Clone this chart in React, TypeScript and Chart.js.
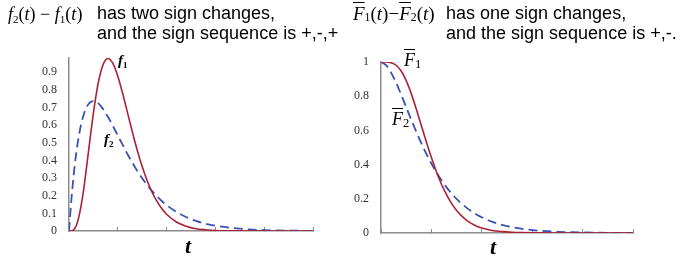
import React, { useEffect, useRef } from 'react';
import { Chart, registerables } from 'chart.js';
Chart.register(...registerables);

// ---- data ----
const tLeft = [0, 0.05, 0.1, 0.15, 0.2, 0.25, 0.3, 0.35, 0.4, 0.45, 0.5, 0.55, 0.6, 0.65, 0.7, 0.75, 0.8, 0.85, 0.9, 1.0, 1.1, 1.2, 1.3, 1.4, 1.5, 1.6, 1.7, 1.8, 1.9, 2.0, 2.2, 2.4, 2.6, 2.8, 3.0, 3.5, 4.0, 4.5, 5.0];
const f1Values = [0, 0.0006, 0.008, 0.031, 0.077, 0.146, 0.235, 0.340, 0.451, 0.563, 0.668, 0.761, 0.840, 0.901, 0.944, 0.969, 0.977, 0.969, 0.949, 0.877, 0.779, 0.669, 0.559, 0.456, 0.365, 0.286, 0.221, 0.169, 0.127, 0.095, 0.051, 0.027, 0.013, 0.007, 0.003, 0.0005, 0.0001, 0, 0];
const f2Values = [0, 0.181, 0.327, 0.444, 0.536, 0.607, 0.659, 0.695, 0.719, 0.732, 0.736, 0.732, 0.723, 0.709, 0.690, 0.669, 0.646, 0.621, 0.595, 0.541, 0.488, 0.435, 0.386, 0.340, 0.299, 0.261, 0.227, 0.197, 0.170, 0.147, 0.108, 0.079, 0.057, 0.041, 0.030, 0.013, 0.005, 0.002, 0.001];

const tRight = [0, 0.1, 0.2, 0.3, 0.4, 0.5, 0.6, 0.7, 0.8, 0.9, 1.0, 1.1, 1.2, 1.3, 1.4, 1.5, 1.6, 1.7, 1.8, 1.9, 2.0, 2.2, 2.4, 2.6, 2.8, 3.0, 3.5, 4.0, 4.5, 5.0];
const F1barValues = [1, 1.0, 0.996, 0.981, 0.947, 0.891, 0.815, 0.725, 0.629, 0.532, 0.441, 0.358, 0.285, 0.224, 0.173, 0.132, 0.100, 0.074, 0.055, 0.040, 0.029, 0.015, 0.008, 0.004, 0.002, 0.001, 0.0001, 0, 0, 0];
const F2barValues = [1, 0.982, 0.938, 0.878, 0.809, 0.736, 0.663, 0.592, 0.525, 0.463, 0.406, 0.355, 0.308, 0.267, 0.231, 0.199, 0.171, 0.147, 0.126, 0.107, 0.092, 0.066, 0.048, 0.034, 0.024, 0.017, 0.007, 0.003, 0.001, 0.0005];

const RED = '#ab2236';
const BLUE = '#3a52b4';
const AXIS = '#8c8c8c';
const SERIF = "'Liberation Serif', 'Times New Roman', serif";
const SANS = "'Liberation Sans', Arial, sans-serif";

function buildConfig(t: number[], a: number[], b: number[], yMax: number, yStep: number, pad: any, yW: number, xH: number): any {
  return {
    type: 'line',
    data: {
      datasets: [
        { data: t.map((x, i) => ({ x, y: a[i] })), borderColor: RED, borderWidth: 1.6, pointRadius: 0, fill: false, cubicInterpolationMode: 'monotone' },
        { data: t.map((x, i) => ({ x, y: b[i] })), borderColor: BLUE, borderWidth: 1.8, borderDash: [9, 5], pointRadius: 0, fill: false, cubicInterpolationMode: 'monotone' },
      ],
    },
    options: {
      responsive: false,
      animation: false,
      events: [],
      layout: { padding: pad },
      plugins: { legend: { display: false }, tooltip: { enabled: false } },
      scales: {
        x: {
          type: 'linear', min: 0, max: 5,
          afterFit: (s: any) => { s.height = xH; },
          grid: { display: true, drawOnChartArea: false, drawTicks: true, tickLength: -4, color: AXIS },
          border: { display: true, color: AXIS, width: 1.5 },
          ticks: { stepSize: 1, callback: () => '' },
        },
        y: {
          type: 'linear', min: 0, max: yMax,
          afterFit: (s: any) => { s.width = yW; },
          grid: { display: false },
          border: { display: true, color: AXIS, width: 1.5 },
          ticks: {
            stepSize: yStep, includeBounds: false, padding: 4, color: '#333',
            font: { family: SERIF, size: 12 },
            callback: (v: any) => String(parseFloat(Number(v).toFixed(2))),
          },
        },
      },
    },
  };
}

const sub = (s: string, size = '0.62em', va = '-0.3em') => (
  <span style={{ fontSize: size, verticalAlign: va, fontStyle: 'normal' }}>{s}</span>
);
const abs = (left: number, top: number, extra: any = {}) => ({ position: 'absolute' as const, left, top, whiteSpace: 'nowrap' as const, ...extra });

export default function App() {
  const leftRef = useRef<HTMLCanvasElement>(null);
  const rightRef = useRef<HTMLCanvasElement>(null);

  useEffect(() => {
    const c1 = new Chart(leftRef.current!, buildConfig(tLeft, f1Values, f2Values, 0.98, 0.1, { left: 0, top: 58, right: 32, bottom: 0 }, 69, 40));
    const c2 = new Chart(rightRef.current!, buildConfig(tRight, F1barValues, F2barValues, 1, 0.2, { left: 0, top: 62, right: 58, bottom: 0 }, 36, 38));
    return () => { c1.destroy(); c2.destroy(); };
  }, []);

  const mathTitle = { fontFamily: SERIF, fontSize: 18, lineHeight: '20px', color: '#000' };
  const sansTitle = { fontFamily: SANS, fontSize: 18, lineHeight: '19.5px', color: '#000' };
  const Fbar = <span style={{ textDecoration: 'overline', fontStyle: 'italic' }}>F</span>;

  return (
    <div style={{ position: 'absolute', left: 0, top: 0, width: 691, height: 271, background: '#fff', overflow: 'hidden' }}>
      <canvas ref={leftRef} width={345} height={271} style={{ position: 'absolute', left: 0, top: 0, width: 345, height: 271 }} />
      <canvas ref={rightRef} width={346} height={271} style={{ position: 'absolute', left: 345, top: 0, width: 346, height: 271 }} />

      <div style={abs(8, 4, mathTitle)}>
        <i>f</i>{sub('2')}(<i>t</i>) − <i>f</i>{sub('1')}(<i>t</i>)
      </div>
      <div style={abs(97, 4, sansTitle)}>has two sign changes,<br />and the sign sequence is +,-,+</div>

      <div style={abs(353, 4, { ...mathTitle, fontSize: 19 })}>
        {Fbar}{sub('1', '0.62em', '-0.1em')}(<i>t</i>)−{Fbar}{sub('2', '0.62em', '-0.1em')}(<i>t</i>)
      </div>
      <div style={abs(446, 4, sansTitle)}>has one sign changes,<br />and the sign sequence is +,-.</div>

      <div style={abs(118, 53, { fontFamily: SERIF, fontSize: 15, lineHeight: '15px', fontStyle: 'italic', fontWeight: 'bold' })}>f{sub('1', '0.6em', '-0.3em')}</div>
      <div style={abs(104, 132, { fontFamily: SERIF, fontSize: 15, lineHeight: '15px', fontStyle: 'italic', fontWeight: 'bold' })}>f{sub('2', '0.6em', '-0.3em')}</div>

      <div style={abs(404, 51, { fontFamily: SERIF, fontSize: 18, lineHeight: '18px' })}>{Fbar}{sub('1', '0.7em', '-0.15em')}</div>
      <div style={abs(392, 110, { fontFamily: SERIF, fontSize: 18, lineHeight: '18px' })}>{Fbar}{sub('2', '0.7em', '-0.15em')}</div>

      <div style={abs(185, 235, { fontFamily: SERIF, fontSize: 22, lineHeight: '22px', fontStyle: 'italic', fontWeight: 'bold' })}>t</div>
      <div style={abs(490, 236, { fontFamily: SERIF, fontSize: 22, lineHeight: '22px', fontStyle: 'italic', fontWeight: 'bold' })}>t</div>
    </div>
  );
}
